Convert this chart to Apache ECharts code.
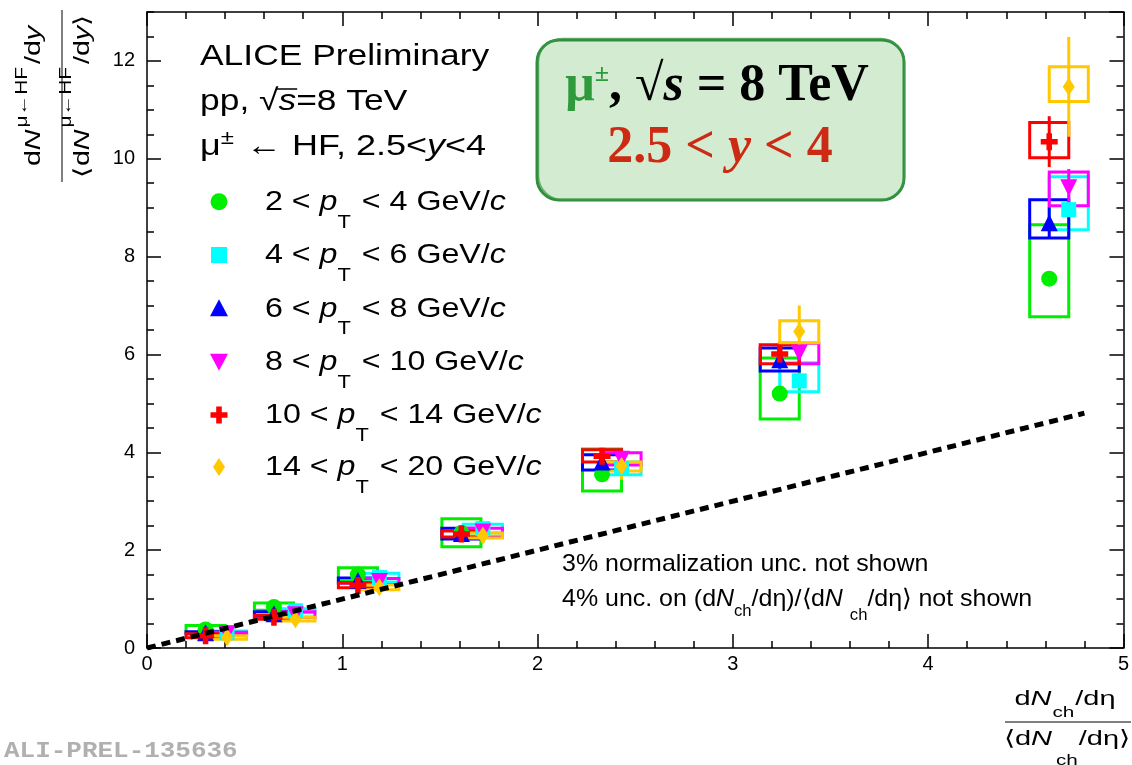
<!DOCTYPE html>
<html>
<head>
<meta charset="utf-8">
<script src="https://cdn.jsdelivr.net/npm/echarts@6/dist/echarts.min.js"></script>
<style>
  html, body { margin: 0; padding: 0; background: #fff; }
  #chart { width: 1132px; height: 765px; }
</style>
</head>
<body>
<div id="chart"></div>
<script>
// Self-normalised charged-particle multiplicity, (dNch/deta)/<dNch/deta>.
// Lower pT bins sit at xLeft, higher ones are staggered to xRight.
const xLeft  = [0.30, 0.65, 1.08, 1.61, 2.33, 3.24, 4.62];
const xRight = [0.41, 0.76, 1.19, 1.72, 2.43, 3.34, 4.72];

// pT intervals (GeV/c) of the heavy-flavour decay muons
const ptBins = [[2, 4], [4, 6], [6, 8], [8, 10], [10, 14], [14, 20]];

// Self-normalised yields per pT interval: value, stat. error, syst. box low/high edges
const pt2to4     = [0.38, 0.84, 1.50, 2.35, 3.55, 5.20, 7.55];
const pt2to4Stat = [0.02, 0.03, 0.04, 0.06, 0.08, 0.12, 0.15];
const pt2to4Lo   = [0.32, 0.77, 1.36, 2.07, 3.21, 4.68, 6.77];
const pt2to4Hi   = [0.46, 0.92, 1.64, 2.64, 4.07, 5.93, 8.65];

const pt4to6     = [0.31, 0.76, 1.44, 2.44, 3.67, 5.46, 8.96];
const pt4to6Stat = [0.02, 0.03, 0.04, 0.06, 0.10, 0.15, 0.30];
const pt4to6Lo   = [0.28, 0.72, 1.35, 2.35, 3.54, 5.24, 8.55];
const pt4to6Hi   = [0.35, 0.80, 1.53, 2.53, 3.80, 5.83, 9.63];

const pt6to8     = [0.31, 0.70, 1.38, 2.34, 3.80, 5.89, 8.69];
const pt6to8Stat = [0.02, 0.03, 0.05, 0.07, 0.12, 0.18, 0.32];
const pt6to8Lo   = [0.29, 0.65, 1.33, 2.23, 3.64, 5.66, 8.38];
const pt6to8Hi   = [0.33, 0.74, 1.43, 2.45, 3.95, 6.13, 9.16];

const pt8to10     = [0.29, 0.68, 1.36, 2.37, 3.86, 6.03, 9.41];
const pt8to10Stat = [0.02, 0.04, 0.06, 0.08, 0.13, 0.20, 0.38];
const pt8to10Lo   = [0.27, 0.63, 1.30, 2.27, 3.74, 5.81, 9.04];
const pt8to10Hi   = [0.32, 0.74, 1.42, 2.45, 3.99, 6.23, 9.73];

const pt10to14     = [0.25, 0.63, 1.28, 2.33, 3.92, 6.01, 10.35];
const pt10to14Stat = [0.03, 0.05, 0.07, 0.10, 0.15, 0.25, 0.52];
const pt10to14Lo   = [0.21, 0.59, 1.23, 2.27, 3.80, 5.81, 10.02];
const pt10to14Hi   = [0.29, 0.67, 1.33, 2.39, 4.05, 6.20, 10.74];

const pt14to20     = [0.22, 0.59, 1.24, 2.30, 3.72, 6.47, 11.47];
const pt14to20Stat = [0.05, 0.08, 0.12, 0.16, 0.28, 0.53, 1.02];
const pt14to20Lo   = [0.18, 0.55, 1.19, 2.25, 3.62, 6.24, 11.17];
const pt14to20Hi   = [0.25, 0.63, 1.29, 2.35, 3.80, 6.69, 11.88];

// Linear reference y = x
const diagX = [0, 4.8];

const SANS  = "'Liberation Sans', Arial, Helvetica, sans-serif";
const SERIF = "'Liberation Serif', 'Times New Roman', serif";
const MONO  = "'Liberation Mono', 'Courier New', monospace";
const BOX_HALF = 0.1;   // half width of systematic boxes in x units

const sets = [
  { x: xLeft,  v: pt2to4,   s: pt2to4Stat,   lo: pt2to4Lo,   hi: pt2to4Hi,   color: '#00ee00', symbol: 'circle',   size: 16 },
  { x: xRight, v: pt4to6,   s: pt4to6Stat,   lo: pt4to6Lo,   hi: pt4to6Hi,   color: '#00ffff', symbol: 'rect',     size: 15 },
  { x: xLeft,  v: pt6to8,   s: pt6to8Stat,   lo: pt6to8Lo,   hi: pt6to8Hi,   color: '#0000ff', symbol: 'triangle', size: 17 },
  { x: xRight, v: pt8to10,  s: pt8to10Stat,  lo: pt8to10Lo,  hi: pt8to10Hi,  color: '#ff00ff', symbol: 'triangle', size: 17, rotate: 180 },
  { x: xLeft,  v: pt10to14, s: pt10to14Stat, lo: pt10to14Lo, hi: pt10to14Hi, color: '#ff0000', symbol: 'path://M2.7,0H5.3V2.7H8V5.3H5.3V8H2.7V5.3H0V2.7H2.7Z', size: 17 },
  { x: xRight, v: pt14to20, s: pt14to20Stat, lo: pt14to20Lo, hi: pt14to20Hi, color: '#ffc800', symbol: 'diamond',  size: [12, 18] }
];

// ---------- text layout helpers (runs with sub/superscripts) ----------
const mctx = document.createElement('canvas').getContext('2d');
function fontOf(p) {
  return (p.it ? 'italic ' : '') + (p.bold ? 'bold ' : '') + p.size + 'px ' + (p.fam || SANS);
}
function widthOf(p) { mctx.font = fontOf(p); return mctx.measureText(p.t).width; }
function runs(parts, x0, base, anchor, defaults) {
  parts = parts.map(p => Object.assign({}, defaults || {}, p));
  let total = 0;
  parts.forEach(p => { total += (p.gap || 0) + widthOf(p) * (p.sx || 1); });
  let x = anchor === 'center' ? x0 - total / 2 : x0;
  const els = [];
  parts.forEach(p => {
    x += (p.gap || 0);
    const sx = p.sx || 1;
    const w = widthOf(p) * sx;
    els.push({
      type: 'text', silent: true,
      x: x, y: base + (p.dy || 0) - 0.35 * p.size, scaleX: sx,
      style: { text: p.t, font: fontOf(p), fill: p.color || '#000', textAlign: 'left', textVerticalAlign: 'middle' }
    });
    p.x = x; p.w = w;
    x += w;
  });
  return { els: els, parts: parts, width: total };
}

const graphics = [];

// ---------- y-axis title (rotated fraction) ----------
(function () {
  const d = { size: 22, fam: SANS, sx: 1.3 };
  const num = runs([
    { t: 'd' }, { t: 'N', it: true }, { t: 'μ←HF', size: 16, dy: -14, gap: 2 }, { t: '/d', gap: 3 }, { t: 'y', it: true }
  ], 0, -20, 'center', d);
  const den = runs([
    { t: '⟨d' }, { t: 'N', it: true }, { t: 'μ←HF', size: 16, dy: -19, gap: 2 }, { t: '/d', gap: 3 }, { t: 'y', it: true }, { t: '⟩' }
  ], 0, 29, 'center', d);
  graphics.push({
    type: 'group', x: 62, y: 96, rotation: Math.PI / 2, silent: true,
    children: num.els.concat(den.els, [{
      type: 'line', shape: { x1: -86, y1: 0, x2: 86, y2: 0 }, style: { stroke: '#000', lineWidth: 1 }
    }])
  });
})();

// ---------- x-axis title (fraction) ----------
(function () {
  const d = { size: 21, fam: SANS, sx: 1.38 };
  const num = runs([{ t: 'd' }, { t: 'N', it: true }, { t: 'ch', size: 15, dy: 11, gap: 1 }, { t: '/dη', gap: 1 }], 1065, 707, 'center', d);
  const den = runs([{ t: '⟨d' }, { t: 'N', it: true }, { t: 'ch', size: 15, dy: 19, gap: 4 }, { t: '/dη⟩', gap: 1 }], 1067, 747, 'center', d);
  graphics.push(...num.els, ...den.els, {
    type: 'line', silent: true, shape: { x1: 1005, y1: 722, x2: 1131, y2: 722 }, style: { stroke: '#000', lineWidth: 1 }
  });
})();

// ---------- header text ----------
(function () {
  const d = { size: 30, fam: SANS, sx: 1.18 };
  graphics.push(...runs([{ t: 'ALICE Preliminary' }], 200, 67, 'left', d).els);
  const l2 = runs([{ t: 'pp, ' }, { t: '√' }, { t: 's', it: true }, { t: '=8 TeV' }], 200, 112, 'left', d);
  graphics.push(...l2.els);
  const sq = l2.parts[1], s = l2.parts[2];
  graphics.push({
    type: 'line', silent: true,
    shape: { x1: sq.x + sq.w - 2, y1: 112 - 23, x2: s.x + s.w + 1, y2: 112 - 23 },
    style: { stroke: '#000', lineWidth: 1.5 }
  });
  graphics.push(...runs([
    { t: 'μ' }, { t: '±', size: 20, dy: -12 }, { t: ' ← HF, 2.5<', gap: 2 }, { t: 'y', it: true }, { t: '<4' }
  ], 200, 157, 'left', Object.assign({}, d, { sx: 1.2 })).els);
})();

// ---------- legend ----------
(function () {
  const rowY = [201.7, 255, 308.3, 361.7, 415, 467];
  const mx = 219;
  ptBins.forEach((b, i) => {
    const cy = rowY[i];
    const c = sets[i].color;
    let shape;
    if (i === 0) shape = { type: 'circle', shape: { cx: mx, cy: cy, r: 8.5 } };
    else if (i === 1) shape = { type: 'rect', shape: { x: mx - 8, y: cy - 8, width: 16, height: 16 } };
    else if (i === 2) shape = { type: 'polygon', shape: { points: [[mx, cy - 9], [mx + 9, cy + 8], [mx - 9, cy + 8]] } };
    else if (i === 3) shape = { type: 'polygon', shape: { points: [[mx - 9, cy - 8], [mx + 9, cy - 8], [mx, cy + 9]] } };
    else if (i === 4) shape = { type: 'polygon', shape: { points: [
      [mx - 2.8, cy - 8.5], [mx + 2.8, cy - 8.5], [mx + 2.8, cy - 2.8], [mx + 8.5, cy - 2.8], [mx + 8.5, cy + 2.8],
      [mx + 2.8, cy + 2.8], [mx + 2.8, cy + 8.5], [mx - 2.8, cy + 8.5], [mx - 2.8, cy + 2.8], [mx - 8.5, cy + 2.8],
      [mx - 8.5, cy - 2.8], [mx - 2.8, cy - 2.8]] } };
    else shape = { type: 'polygon', shape: { points: [[mx, cy - 9], [mx + 6, cy], [mx, cy + 9], [mx - 6, cy]] } };
    shape.style = { fill: c };
    shape.silent = true;
    graphics.push(shape);
    graphics.push(...runs([
      { t: b[0] + ' < ' }, { t: 'p', it: true }, { t: 'T', size: 19, dy: 17 }, { t: ' < ' + b[1] + ' GeV/', gap: 2 }, { t: 'c', it: true }
    ], 265, cy + 10.5, 'left', { size: 28, fam: SANS, sx: 1.15 }).els);
  });
})();

// ---------- highlighted energy / rapidity box ----------
(function () {
  graphics.push({
    type: 'rect', silent: true, shape: { x: 537, y: 40, width: 367, height: 160, r: 22 },
    style: { fill: '#d3ecd1', stroke: '#2f8f3c', lineWidth: 3 }
  });
  graphics.push({
    type: 'rect', silent: true, shape: { x: 538.5, y: 38.5, width: 366, height: 161, r: 24 },
    style: { fill: 'none', stroke: '#3d9a48', lineWidth: 1.5, opacity: 0.7 }
  });
  const d = { size: 52, fam: SERIF, bold: true };
  graphics.push(...runs([
    { t: 'μ', color: '#2e9a3c' }, { t: '±', size: 26, dy: -22, color: '#2e9a3c' }, { t: ', √' }, { t: 's', it: true }, { t: ' = 8 TeV' }
  ], 717, 105, 'center', d).els);
  graphics.push(...runs([
    { t: '2.5 < ', color: '#cc2a12' }, { t: 'y', it: true, color: '#cc2a12' }, { t: ' < 4', color: '#cc2a12' }
  ], 720, 167, 'center', d).els);
})();

// ---------- notes ----------
(function () {
  const d = { size: 24, fam: SANS, sx: 1.04 };
  graphics.push(...runs([{ t: '3% normalization unc. not shown' }], 562, 573, 'left', d).els);
  graphics.push(...runs([
    { t: '4% unc. on (d' }, { t: 'N', it: true }, { t: 'ch', size: 16, dy: 9 }, { t: '/dη)/⟨d' },
    { t: 'N', it: true }, { t: 'ch', size: 16, dy: 13, gap: 7 }, { t: '/dη⟩ not shown' }
  ], 562, 608, 'left', d).els);
})();

graphics.push(...runs([{ t: 'ALI-PREL-135636' }], 4, 759, 'left',
  { size: 22, fam: MONO, bold: true, sx: 1.18, color: '#b0b0b0' }).els);

// ---------- axes ----------
const tickStyle = { color: '#000', width: 1.5 };
function xAx(pos, labels) {
  return {
    type: 'value', position: pos, min: 0, max: 5, interval: 1,
    axisLine: { show: true, onZero: false, lineStyle: tickStyle },
    axisTick: { show: true, inside: true, length: 14, lineStyle: tickStyle },
    minorTick: { show: true, splitNumber: 5, length: 7, lineStyle: tickStyle },
    axisLabel: { show: labels, fontSize: 20, color: '#000', fontFamily: SANS, margin: 6 },
    splitLine: { show: false }, minorSplitLine: { show: false }
  };
}
function yAx(pos, major) {
  return {
    type: 'value', position: pos, min: 0, max: 13, interval: major ? 2 : 0.5,
    axisLine: { show: major, onZero: false, lineStyle: tickStyle },
    axisTick: { show: true, inside: true, length: major ? 14 : 7, lineStyle: tickStyle },
    axisLabel: { show: major && pos === 'left', showMaxLabel: false, fontSize: 20, color: '#000', fontFamily: SANS, margin: 12 },
    splitLine: { show: false }
  };
}

const series = [];
sets.forEach((st) => {
  series.push({
    type: 'custom', xAxisIndex: 0, yAxisIndex: 0, silent: true,
    dimensions: ['x', 'v', 'lo', 'hi', 's'],
    encode: { x: 0, y: 1 },
    data: st.x.map((x, i) => [x, st.v[i], st.lo[i], st.hi[i], st.s[i]]),
    renderItem: function (params, api) {
      const x = api.value(0), v = api.value(1), lo = api.value(2), hi = api.value(3), s = api.value(4);
      const a = api.coord([x - BOX_HALF, hi]);
      const b = api.coord([x + BOX_HALF, lo]);
      const e1 = api.coord([x, v + s]);
      const e2 = api.coord([x, v - s]);
      return {
        type: 'group', children: [
          { type: 'rect', shape: { x: a[0], y: a[1], width: b[0] - a[0], height: b[1] - a[1] },
            style: { fill: 'none', stroke: st.color, lineWidth: 3 } },
          { type: 'line', shape: { x1: e1[0], y1: e1[1], x2: e2[0], y2: e2[1] },
            style: { stroke: st.color, lineWidth: 3 } }
        ]
      };
    }
  });
  series.push({
    type: 'scatter', xAxisIndex: 0, yAxisIndex: 0, silent: true,
    data: st.x.map((x, i) => [x, st.v[i]]),
    symbol: st.symbol, symbolSize: st.size, symbolRotate: st.rotate || 0,
    itemStyle: { color: st.color, opacity: 1 }
  });
});
series.push({
  type: 'line', xAxisIndex: 0, yAxisIndex: 0, silent: true,
  data: diagX.map(x => [x, x]),
  symbol: 'none',
  lineStyle: { color: '#000', width: 5, type: [9, 6] }
});

const chart = echarts.init(document.getElementById('chart'), null, { renderer: 'canvas' });
chart.setOption({
  animation: false,
  backgroundColor: '#fff',
  grid: { left: 147, top: 12, width: 981, height: 636, containLabel: false },
  xAxis: [xAx('bottom', true), xAx('top', false)],
  yAxis: [yAx('left', true), yAx('left', false), yAx('right', true), yAx('right', false)],
  series: series,
  graphic: graphics
});
</script>
</body>
</html>
